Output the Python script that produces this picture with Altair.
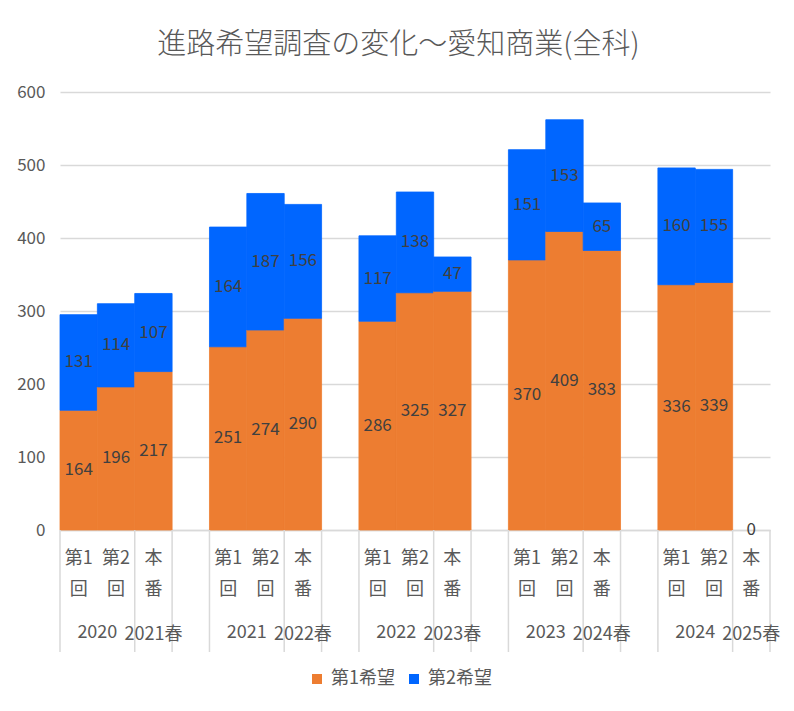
import altair as alt
import pandas as pd

FONT = "Noto Sans CJK JP"

groups = ["2020", "2021", "2022", "2023", "2024"]
springs = ["2021春", "2022春", "2023春", "2024春", "2025春"]
round_top = ["第1", "第2", "本"]
round_bottom = ["回", "回", "番"]
first_choice = [164, 196, 217, 251, 274, 290, 286, 325, 327, 370, 409, 383, 336, 339, 0]
second_choice = [131, 114, 107, 164, 187, 156, 117, 138, 47, 151, 153, 65, 160, 155, None]
series = ["第1希望", "第2希望"]
colors = ["#ED7D31", "#0066FF"]
y_ticks = [0, 100, 200, 300, 400, 500, 600]
title_text = "進路希望調査の変化～愛知商業(全科)"

# slot domain: three rounds per year plus an empty slot between years
slots = []
for gi, g in enumerate(groups):
    for r in range(3):
        slots.append(f"{g}-{r}")
    if gi < len(groups) - 1:
        slots.append(f"{g}-gap")

rows = []
for gi, g in enumerate(groups):
    for r in range(3):
        idx = gi * 3 + r
        vals = [first_choice[idx], second_choice[idx]]
        for si, s in enumerate(series):
            if vals[si] is not None:
                rows.append({"slot": f"{g}-{r}", "series": s, "order": si, "value": vals[si]})
bars_df = pd.DataFrame(rows)

round_rows = []
for g in groups:
    for r in range(3):
        round_rows.append({"slot": f"{g}-{r}", "top": round_top[r], "bottom": round_bottom[r]})
round_df = pd.DataFrame(round_rows)

year_df = pd.DataFrame({"slot": [f"{g}-1" for g in groups], "label": groups})
spring_df = pd.DataFrame({"slot": [f"{g}-2" for g in groups], "label": springs})

div_slots = []
for gi, g in enumerate(groups):
    div_slots += [f"{g}-0", f"{g}-2"]
    if gi < len(groups) - 1:
        div_slots.append(f"{g}-gap")
div_df = pd.DataFrame({"slot": div_slots})
end_df = pd.DataFrame({"slot": [f"{groups[-1]}-2"]})

x_scale = alt.Scale(domain=slots, paddingInner=0, paddingOuter=0)
x_axis = alt.Axis(labels=False, ticks=False, title=None, grid=False,
                  domainColor="#D9D9D9", domainWidth=1.5)
y_scale = alt.Scale(domain=[0, 600], nice=False)
y_axis = alt.Axis(values=y_ticks, title=None, domain=False, ticks=False,
                  labelPadding=15, gridColor="#D9D9D9", gridWidth=1.5,
                  labelFontSize=17, labelColor="#595959", labelFont=FONT)
color_scale = alt.Scale(domain=series, range=colors)

base = alt.Chart(bars_df).transform_stack(
    stack="value", groupby=["slot"], as_=["v0", "v1"], sort=[alt.SortField("order")]
).transform_calculate(mid="(datum.v0 + datum.v1) / 2")

bars = base.transform_filter("datum.value > 0").mark_bar(strokeWidth=0.8).encode(
    x=alt.X("slot:N", scale=x_scale, axis=x_axis),
    y=alt.Y("v0:Q", scale=y_scale, axis=y_axis),
    y2="v1:Q",
    color=alt.Color("series:N", scale=color_scale,
                    legend=alt.Legend(title=None, orient="none", legendX=248, legendY=578,
                                      direction="horizontal", symbolType="square",
                                      symbolSize=100, symbolStrokeWidth=0,
                                      labelFontSize=18, labelColor="#595959", labelFont=FONT,
                                      columnPadding=10, labelOffset=5, padding=0)),
    stroke=alt.Stroke("series:N", scale=color_scale, legend=None),
)

labels = base.mark_text(fontSize=17, color="#404040", font=FONT, baseline="middle").encode(
    x=alt.X("slot:N", scale=x_scale),
    y=alt.Y("mid:Q", scale=y_scale),
    text=alt.Text("value:Q", format="d"),
)

axis_text = dict(fontSize=18, color="#595959", font=FONT, baseline="middle")
top_row = alt.Chart(round_df).mark_text(**axis_text).encode(
    x=alt.X("slot:N", scale=x_scale), y=alt.value(467), text="top:N")
bottom_row = alt.Chart(round_df).mark_text(**axis_text).encode(
    x=alt.X("slot:N", scale=x_scale), y=alt.value(498), text="bottom:N")
year_row = alt.Chart(year_df).mark_text(**axis_text).encode(
    x=alt.X("slot:N", scale=x_scale, bandPosition=0), y=alt.value(541), text="label:N")
spring_row = alt.Chart(spring_df).mark_text(**axis_text).encode(
    x=alt.X("slot:N", scale=x_scale), y=alt.value(543), text="label:N")

dividers = alt.Chart(div_df).mark_rule(color="#D9D9D9", strokeWidth=1.5).encode(
    x=alt.X("slot:N", scale=x_scale, bandPosition=0), y=alt.value(438), y2=alt.value(560))
end_divider = alt.Chart(end_df).mark_rule(color="#D9D9D9", strokeWidth=1.5).encode(
    x=alt.X("slot:N", scale=x_scale, bandPosition=1), y=alt.value(438), y2=alt.value(560))

chart = alt.layer(
    bars, labels, dividers, end_divider, top_row, bottom_row, year_row, spring_row
).properties(
    width=710, height=438,
    autosize=alt.AutoSizeParams(type="none"),
    padding={"left": 52, "top": 84, "right": 16, "bottom": 170},
    title=alt.TitleParams(text=title_text, fontSize=29, fontWeight=300, color="#595959",
                          font=FONT, anchor="middle", frame="bounds", offset=23),
).configure(background="white").configure_view(stroke=None)

chart.save("out.html", embed_options={"renderer": "svg", "actions": False})
